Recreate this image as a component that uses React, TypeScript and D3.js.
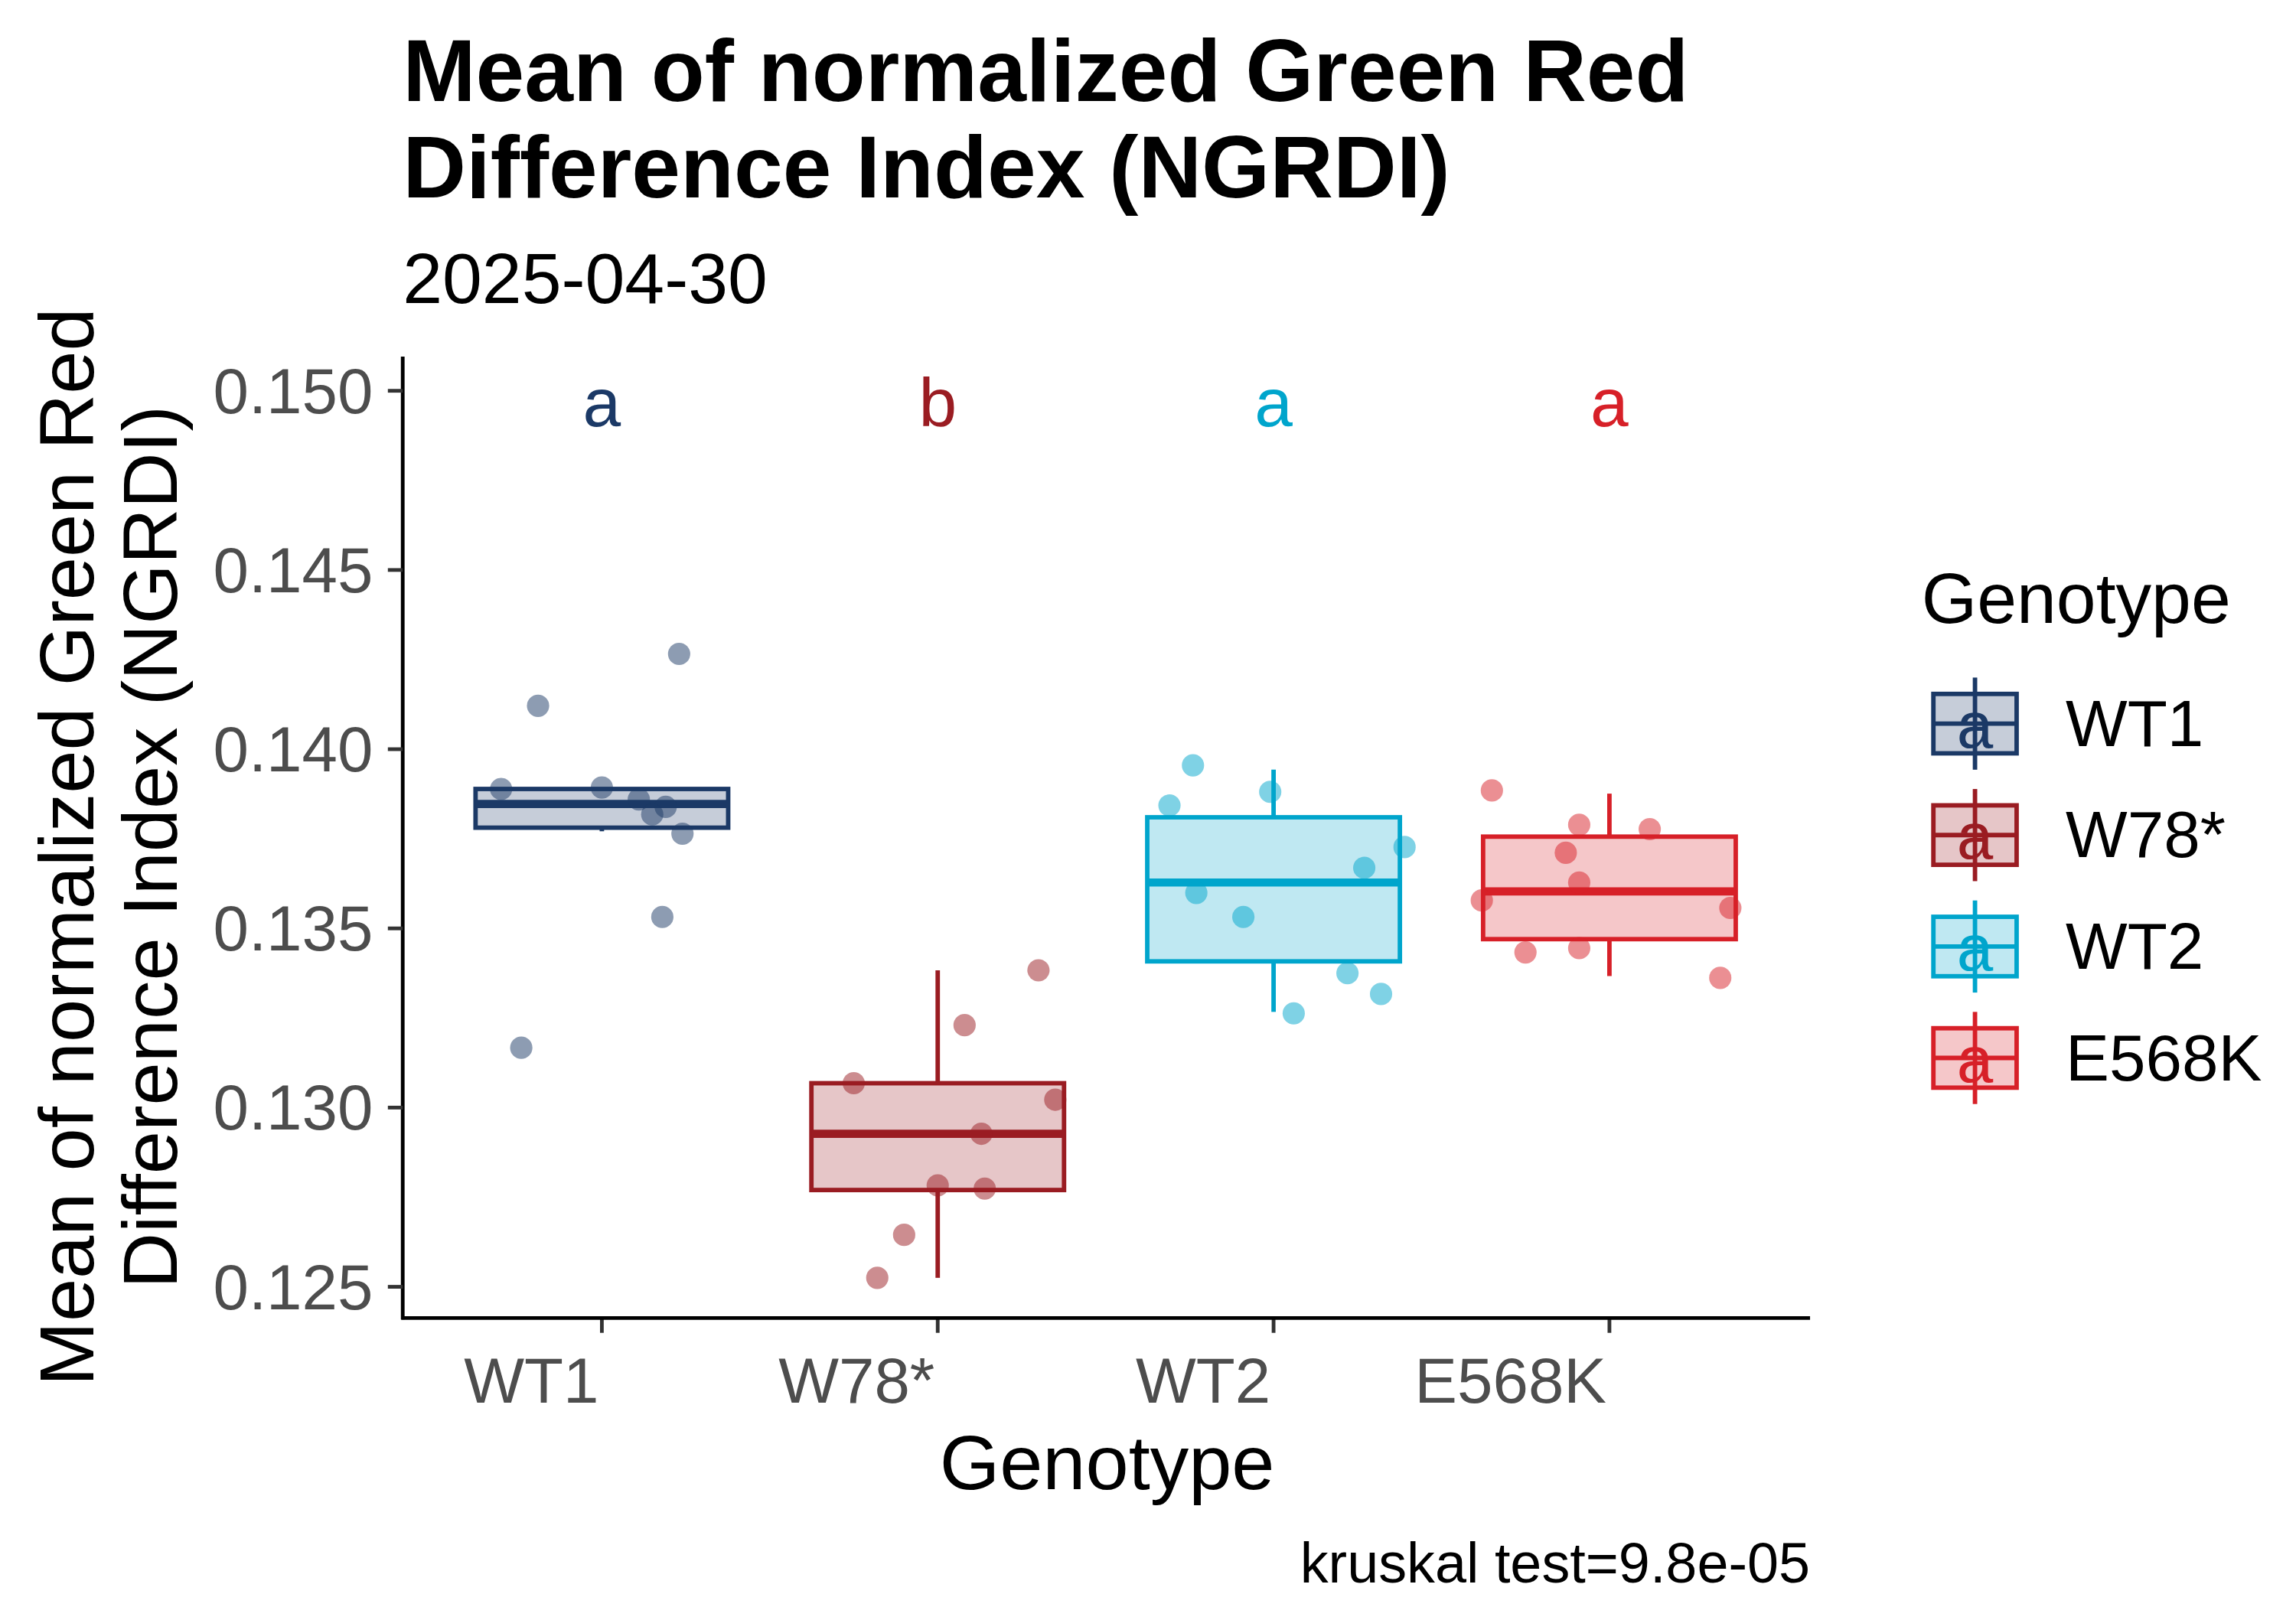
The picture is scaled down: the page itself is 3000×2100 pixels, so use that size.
import React from 'react';
import * as d3 from 'd3';

const genotypes = ['WT1', 'W78*', 'WT2', 'E568K'];
const colors = ['#1B3966', '#9A1C22', '#00A5CC', '#D72028'];
const letters = ['a', 'b', 'a', 'a'];
const q1 = [0.13781, 0.1277, 0.13408, 0.1347];
const q3 = [0.13889, 0.13068, 0.1381, 0.13756];
const medians = [0.13847, 0.12927, 0.13628, 0.13603];
const whiskLo = [0.13771, 0.12525, 0.13267, 0.13367];
const whiskHi = [0.13889, 0.13383, 0.13943, 0.13876];
// points: [jitter offset (category units), value]
const pointsWT1 = [[0.23, 0.14266], [-0.19, 0.14121], [-0.3, 0.13889], [0.0, 0.13893], [0.11, 0.1386], [0.19, 0.13839], [0.15, 0.13818], [0.24, 0.13764], [0.18, 0.13532], [-0.24, 0.13167]];
const pointsW78 = [[0.3, 0.13383], [0.08, 0.1323], [-0.25, 0.13068], [0.35, 0.13022], [0.13, 0.12927], [0.0, 0.12783], [0.14, 0.12774], [-0.1, 0.12645], [-0.18, 0.12525]];
const pointsWT2 = [[-0.24, 0.13955], [-0.31, 0.13843], [-0.01, 0.13881], [0.39, 0.13727], [0.27, 0.13669], [-0.23, 0.13599], [-0.09, 0.13532], [0.22, 0.13375], [0.32, 0.13317], [0.06, 0.13263]];
const pointsE568K = [[-0.35, 0.13885], [-0.09, 0.13789], [0.12, 0.13777], [-0.13, 0.13711], [-0.09, 0.13628], [-0.38, 0.13578], [0.36, 0.13557], [-0.25, 0.13433], [-0.09, 0.13445], [0.33, 0.13362]];
const allPoints = [pointsWT1, pointsW78, pointsWT2, pointsE568K];
const yTicks = [0.125, 0.13, 0.135, 0.14, 0.145, 0.15];

const FONT = 'Arial, "Liberation Sans", sans-serif';

export default function App() {
  const left = 271, right = 1218, top = 240, bottom = 887;
  const y = d3.scaleLinear().domain([0.125, 0.15]).range([866, 263]);
  const x = d3.scalePoint<string>().domain(genotypes).range([405, 1083]);
  const cx = (i: number) => x(genotypes[i]) as number;
  const xo = (i: number, off: number) => cx(i) + off * x.step();
  const hw = 85;
  return (
    <svg width={3000} height={2100} viewBox="0 0 1545 1081.5" style={{ position: 'absolute', left: 0, top: 0, background: '#fff' }} fontFamily={FONT}>
      <text x={271} y={68} fontSize={59} fontWeight="bold">Mean of normalized Green Red</text>
      <text x={271} y={133} fontSize={59} fontWeight="bold">Difference Index (NGRDI)</text>
      <text x={271} y={204} fontSize={48}>2025-04-30</text>

      {genotypes.map((g, i) => (
        <g key={g}>
          <line x1={cx(i)} x2={cx(i)} y1={y(whiskLo[i])} y2={y(q1[i])} stroke={colors[i]} strokeWidth={3} />
          <line x1={cx(i)} x2={cx(i)} y1={y(q3[i])} y2={y(whiskHi[i])} stroke={colors[i]} strokeWidth={3} />
          <rect x={cx(i) - hw} width={2 * hw} y={y(q3[i])} height={y(q1[i]) - y(q3[i])} fill={colors[i]} fillOpacity={0.25} stroke={colors[i]} strokeWidth={3} />
          <line x1={cx(i) - hw} x2={cx(i) + hw} y1={y(medians[i])} y2={y(medians[i])} stroke={colors[i]} strokeWidth={5.5} />
          {allPoints[i].map((p, j) => (
            <circle key={j} cx={xo(i, p[0])} cy={y(p[1])} r={7.5} fill={colors[i]} fillOpacity={0.5} />
          ))}
          <text x={cx(i)} y={287} fontSize={46} fill={colors[i]} textAnchor="middle">{letters[i]}</text>
          <line x1={cx(i)} x2={cx(i)} y1={bottom} y2={bottom + 10} stroke="#333" strokeWidth={2.5} />
          <text x={cx(i) - 2} y={944} fontSize={43} fill="#4d4d4d" textAnchor="end">{g}</text>
        </g>
      ))}

      <line x1={left} x2={left} y1={top} y2={bottom + 1} stroke="#000" strokeWidth={2.5} />
      <line x1={left - 1} x2={right} y1={bottom} y2={bottom} stroke="#000" strokeWidth={2.5} />
      {yTicks.map(t => (
        <g key={t}>
          <line x1={left - 10} x2={left} y1={y(t)} y2={y(t)} stroke="#333" strokeWidth={2.5} />
          <text x={left - 20} y={y(t) + 15} fontSize={43} fill="#4d4d4d" textAnchor="end">{t.toFixed(3)}</text>
        </g>
      ))}

      <g transform="translate(63,570) rotate(-90)">
        <text x={0} y={0} fontSize={52} textAnchor="middle">Mean of normalized Green Red</text>
        <text x={0} y={56} fontSize={52} textAnchor="middle">Difference Index (NGRDI)</text>
      </g>
      <text x={745} y={1002} fontSize={52} textAnchor="middle">Genotype</text>
      <text x={1218} y={1065} fontSize={38} textAnchor="end">kruskal test=9.8e-05</text>

      <text x={1293} y={419} fontSize={48}>Genotype</text>
      {genotypes.map((g, i) => {
        const ky = 487 + i * 75;
        return (
          <g key={g}>
            <line x1={1329} x2={1329} y1={ky - 31} y2={ky + 31} stroke={colors[i]} strokeWidth={3} />
            <rect x={1301} y={ky - 20} width={56} height={40} fill={colors[i]} fillOpacity={0.25} stroke={colors[i]} strokeWidth={3} />
            <line x1={1301} x2={1357} y1={ky} y2={ky} stroke={colors[i]} strokeWidth={3} />
            <text x={1329} y={ky + 16} fontSize={44} fill={colors[i]} textAnchor="middle">a</text>
            <text x={1390} y={ky + 15} fontSize={44}>{g}</text>
          </g>
        );
      })}
    </svg>
  );
}
